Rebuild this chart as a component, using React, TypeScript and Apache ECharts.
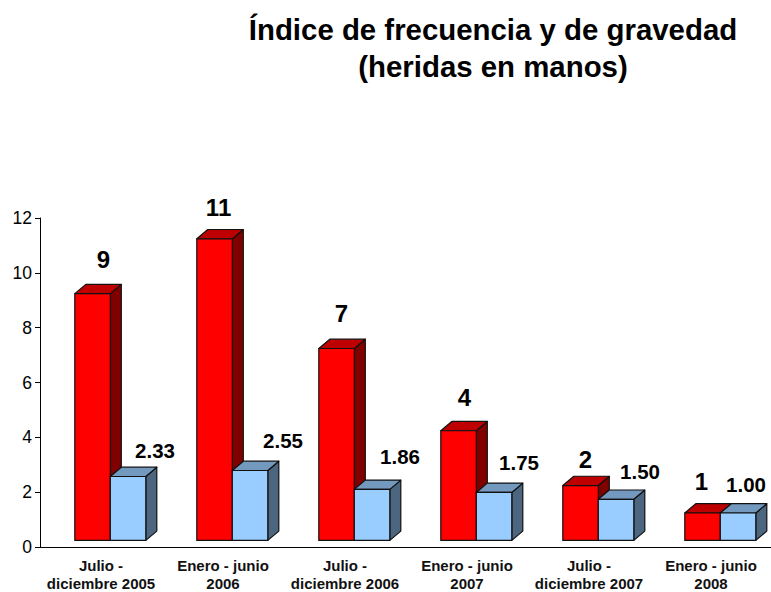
import React, { useEffect, useRef } from "react";
import * as echarts from "echarts";

const categories = [
  "Julio -\ndiciembre 2005",
  "Enero - junio\n2006",
  "Julio -\ndiciembre 2006",
  "Enero - junio\n2007",
  "Julio -\ndiciembre 2007",
  "Enero - junio\n2008",
];
const frecuencia = [9, 11, 7, 4, 2, 1];
const gravedad = [2.33, 2.55, 1.86, 1.75, 1.5, 1.0];
const yTicks = { min: 0, max: 12, interval: 2 };

const FONT = "'Liberation Sans', Arial, sans-serif";
const BAR_W = 35.5;
const DEPTH_X = 11;
const DEPTH_Y = 9.3;
const BASE_LIFT = 6.6;
const STROKE = "#111";

const redLabelOffsets = [[11, -34], [4, -31], [5, -35], [6, -33], [5, -26], [-1, -31]];
const blueLabelOffsets = [[27, -26], [33, -30], [28, -33], [25, -30], [24, -28], [8, -28]];

function barItem(
  slot: number,
  colors: string[],
  offsets: number[][],
  fontSize: number,
  format: (v: number) => string
) {
  return (params: any, api: any) => {
    const idx = api.value(0);
    const val = api.value(1);
    const center = api.coord([idx, 0])[0];
    const zero = api.coord([idx, 0])[1];
    const top = api.coord([idx, val])[1] - BASE_LIFT;
    const base = zero - BASE_LIFT;
    const l = center - 26.2 + slot * BAR_W;
    const r = l + BAR_W;
    const lineStyle = { stroke: STROKE, lineWidth: 1.2, lineJoin: "round" };
    const [dx, dy] = offsets[idx];
    return {
      type: "group",
      children: [
        {
          type: "polygon",
          shape: { points: [[r, base], [r + DEPTH_X, base - DEPTH_Y], [r + DEPTH_X, top - DEPTH_Y], [r, top]] },
          style: { fill: colors[2], ...lineStyle },
        },
        {
          type: "polygon",
          shape: { points: [[l, top], [l + DEPTH_X, top - DEPTH_Y], [r + DEPTH_X, top - DEPTH_Y], [r, top]] },
          style: { fill: colors[1], ...lineStyle },
        },
        {
          type: "rect",
          shape: { x: l, y: top, width: BAR_W, height: base - top },
          style: { fill: colors[0], ...lineStyle },
        },
        {
          type: "text",
          style: {
            text: format(val),
            x: l + BAR_W / 2 + dx,
            y: top + dy,
            align: "center",
            verticalAlign: "middle",
            fontFamily: FONT,
            fontWeight: "bold",
            fontSize,
            fill: "#000",
          },
        },
      ],
    };
  };
}

export default function App() {
  const ref = useRef<HTMLDivElement>(null);
  useEffect(() => {
    const chart = echarts.init(ref.current!, null, { renderer: "svg" });
    chart.setOption({
      animation: false,
      backgroundColor: "#fff",
      title: {
        text: "Índice de frecuencia y de gravedad\n(heridas en manos)",
        left: 488,
        top: 6,
        textAlign: "center",
        textStyle: {
          fontFamily: FONT,
          fontWeight: "bold",
          fontSize: 29.4,
          lineHeight: 37,
          color: "#000",
        },
      },
      grid: { left: 40, top: 218, width: 732, height: 329, containLabel: false, outerBoundsMode: "none" },
      xAxis: {
        type: "category",
        data: categories,
        axisLine: { lineStyle: { color: "#000", width: 1 } },
        axisTick: { length: 5, lineStyle: { color: "#333" } },
        axisLabel: {
          interval: 0,
          margin: 10,
          fontFamily: FONT,
          fontWeight: "bold",
          fontSize: 15,
          lineHeight: 17.5,
          color: "#111",
        },
      },
      yAxis: {
        type: "value",
        min: yTicks.min,
        max: yTicks.max,
        interval: yTicks.interval,
        splitLine: { show: false },
        axisLine: { show: true, lineStyle: { color: "#000", width: 1 } },
        axisTick: { show: true, length: 5, lineStyle: { color: "#000" } },
        axisLabel: { margin: 8, fontFamily: FONT, fontSize: 17.5, color: "#000" },
      },
      series: [
        {
          type: "custom",
          name: "Índice de frecuencia",
          data: frecuencia.map((v, i) => [i, v]),
          encode: { x: 0, y: 1 },
          clip: false,
          renderItem: barItem(0, ["#FF0000", "#BF0000", "#800000"], redLabelOffsets, 24, (v) => String(v)),
        },
        {
          type: "custom",
          name: "Índice de gravedad",
          data: gravedad.map((v, i) => [i, v]),
          encode: { x: 0, y: 1 },
          clip: false,
          renderItem: barItem(1, ["#99CCFF", "#7399BF", "#4D6680"], blueLabelOffsets, 20.5, (v) => v.toFixed(2)),
        },
      ],
    });
    return () => chart.dispose();
  }, []);
  return (
    <div
      ref={ref}
      style={{ position: "fixed", left: 0, top: 0, width: 771, height: 592 }}
    />
  );
}
